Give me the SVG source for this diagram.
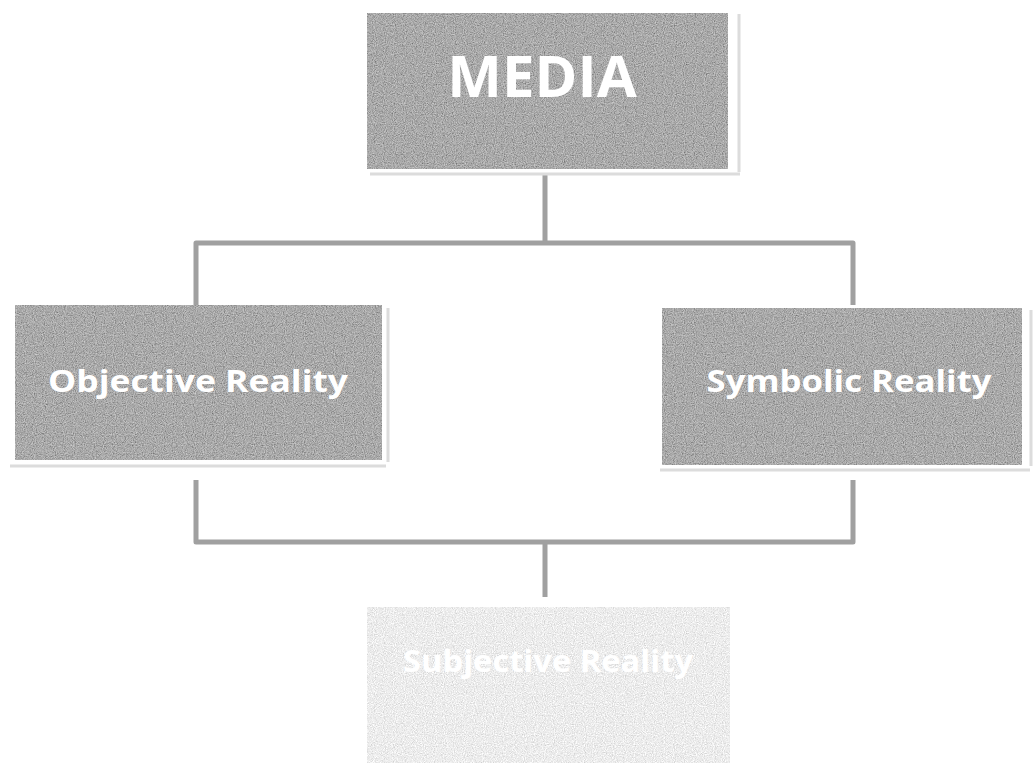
<svg xmlns="http://www.w3.org/2000/svg" width="1033" height="776" viewBox="0 0 1033 776">
<style>
.box{fill:#a9a9a9;filter:url(#grain)}
.box-light{fill:#ececec;filter:url(#grain)}
.shadow{stroke:#dcdcdc;stroke-width:3;fill:none}
.lbl{fill:#ffffff;font-family:"Open Sans","Liberation Sans",sans-serif;font-weight:bold;text-anchor:middle}
.conn{stroke:#a0a0a0;stroke-width:5;fill:none;stroke-linejoin:round}
</style>
<defs>
<filter id="grain" x="0" y="0" width="100%" height="100%">
<feTurbulence type="fractalNoise" baseFrequency="0.9" numOctaves="2" seed="4" result="n"/>
<feColorMatrix in="n" type="matrix" values="1 0 0 0 0 1 0 0 0 0 1 0 0 0 0 0 0 0 0 1" result="g"/>
<feComposite in="SourceGraphic" in2="g" operator="arithmetic" k1="0" k2="1" k3="0.6" k4="-0.3"/>
</filter>
</defs>
<rect width="1033" height="776" fill="#ffffff"/>
<g id="connectors">
<path class="conn" d="M545 174 V243 M196 305 V243 H853 V305"/>
<path class="conn" d="M196 480 V542 H853 V480 M545 542 V597"/>
</g>
<g id="media">
<path class="shadow" d="M370 174 H740 M739 14 V172"/>
<rect class="box" x="367" y="13" width="361" height="156"/>
<text class="lbl" x="542" y="97" font-size="58">MEDIA</text>
</g>
<g id="objective">
<path class="shadow" d="M10 466 H386 M388 308 V462"/>
<rect class="box" x="15" y="305" width="367" height="155"/>
<text class="lbl" x="198" y="392" font-size="31" textLength="300" lengthAdjust="spacingAndGlyphs">Objective Reality</text>
</g>
<g id="symbolic">
<path class="shadow" d="M660 470 H1030 M1031 310 V466"/>
<rect class="box" x="662" y="308" width="360" height="157"/>
<text class="lbl" x="849" y="392" font-size="31" textLength="285" lengthAdjust="spacingAndGlyphs">Symbolic Reality</text>
</g>
<g id="subjective">
<rect class="box-light" x="367" y="607" width="363" height="156"/>
<text class="lbl" x="548" y="672" font-size="31" textLength="290" lengthAdjust="spacingAndGlyphs">Subjective Reality</text>
</g>
</svg>
